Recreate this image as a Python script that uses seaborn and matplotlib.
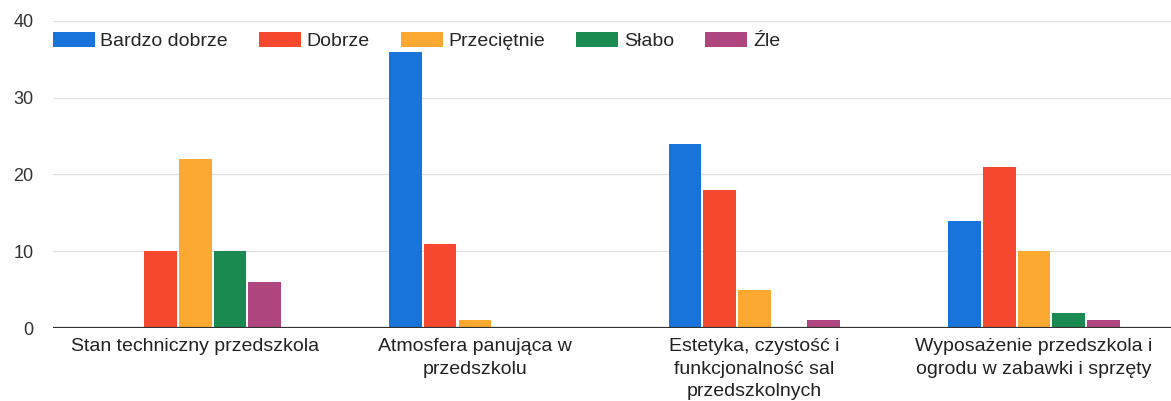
import pandas as pd
import matplotlib
matplotlib.use('Agg')
import matplotlib.pyplot as plt
import seaborn as sns

# data
categories = ['Stan techniczny przedszkola',
              'Atmosfera panująca w\nprzedszkolu',
              'Estetyka, czystość i\nfunkcjonalność sal\nprzedszkolnych',
              'Wyposażenie przedszkola i\nogrodu w zabawki i sprzęty']
series = ['Bardzo dobrze', 'Dobrze', 'Przeciętnie', 'Słabo', 'Źle']
bardzo_dobrze = [0, 36, 24, 14]
dobrze = [10, 11, 18, 21]
przecietnie = [22, 1, 5, 10]
slabo = [10, 0, 0, 2]
zle = [6, 0, 1, 1]
colors = ['#1874DA', '#F5482E', '#FBA930', '#1B8A50', '#B0467F']

values = [bardzo_dobrze, dobrze, przecietnie, slabo, zle]
rows = []
for name, vals in zip(series, values):
    for cat, v in zip(categories, vals):
        rows.append({'kategoria': cat, 'ocena': name, 'liczba': v})
df = pd.DataFrame(rows)

sns.set_theme(style='white')
plt.rcParams['font.family'] = ['Liberation Sans', 'DejaVu Sans']

fig = plt.figure(figsize=(11.71, 4.01), dpi=100)
ax = fig.add_axes([0.045, 0.182, 0.955, 0.766])

sns.barplot(data=df, x='kategoria', y='liczba', hue='ocena', order=categories,
            hue_order=series, palette=colors, width=0.62, gap=0.06,
            linewidth=0, saturation=1, ax=ax)

ax.set_xlim(-0.51, 3.49)
ax.set_ylim(0, 40)
ax.set_yticks([0, 10, 20, 30, 40])
ax.yaxis.grid(True, color='#e0e0e0', linewidth=0.9)
ax.set_axisbelow(True)
ax.axhline(0, color='#333333', linewidth=1.6)
for s in ax.spines.values():
    s.set_visible(False)
ax.set_xlabel('')
ax.set_ylabel('')
ax.tick_params(axis='y', length=0, pad=14, labelsize=13, labelcolor='#333333')
ax.tick_params(axis='x', length=0, pad=7, labelsize=14, labelcolor='#222222')
for lbl in ax.get_xticklabels():
    lbl.set_linespacing(1.45)

ax.legend(loc='center left', bbox_to_anchor=(0, 0.935), ncol=5, frameon=False,
          fontsize=14, handlelength=2.15, handleheight=0.85, handletextpad=0.3,
          columnspacing=1.6, borderpad=0, borderaxespad=0)

plt.savefig('out.png', dpi=100)
